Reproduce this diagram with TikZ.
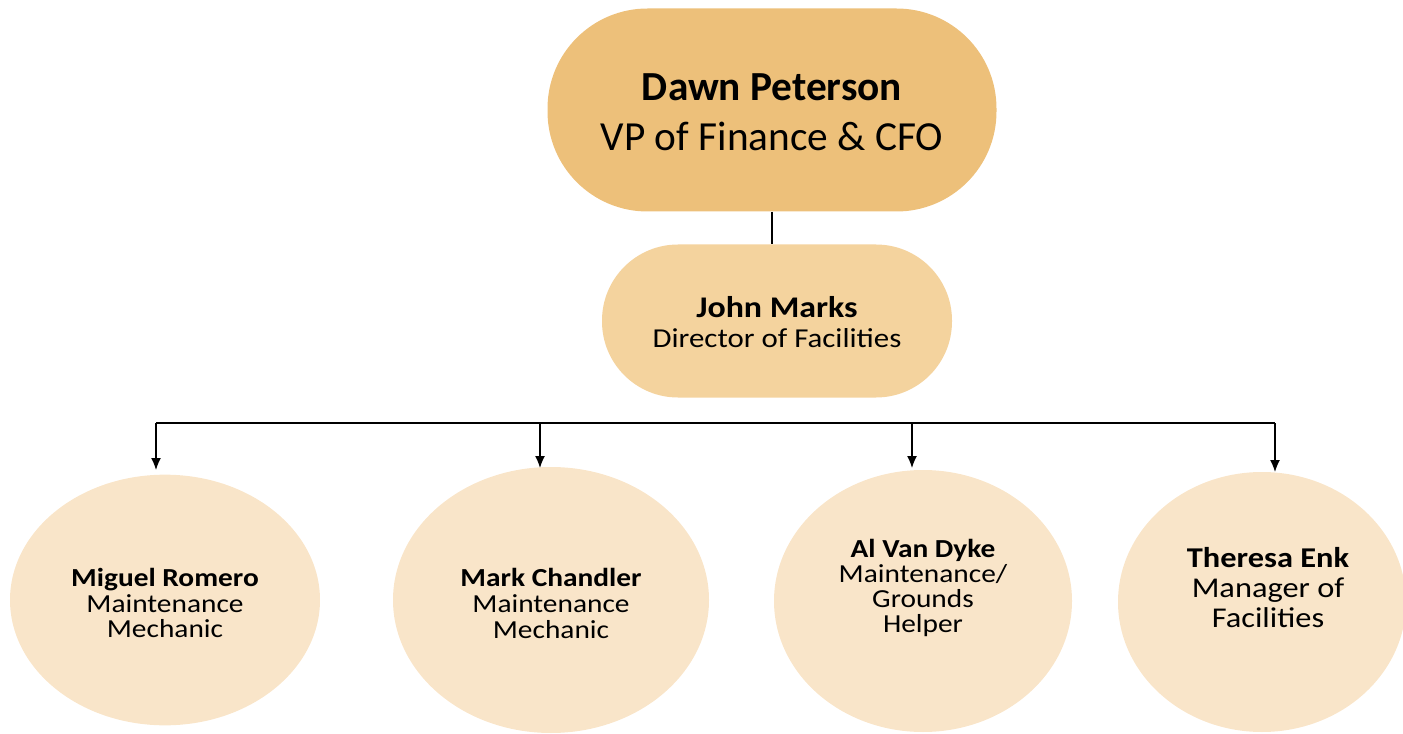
\documentclass[tikz,border=0pt]{standalone}
\usepackage{fontspec}
\setmainfont{Carlito}
\newfontfamily\wfont[FakeStretch=1.13]{Carlito}
\usetikzlibrary{arrows.meta,shapes.geometric}
\definecolor{topfill}{RGB}{237,192,122}
\definecolor{midfill}{RGB}{244,211,158}
\definecolor{lowfill}{RGB}{249,229,201}
\begin{document}
\begin{tikzpicture}[x=0.75pt,y=-0.75pt,
  topbox/.style={rectangle,rounded corners=75pt,fill=topfill,minimum width=336.75pt,minimum height=152.25pt,inner sep=0pt},
  midbox/.style={rectangle,rounded corners=57pt,fill=midfill,minimum width=262.5pt,minimum height=114.75pt,inner sep=0pt},
  circ/.style={ellipse,fill=lowfill,inner sep=0pt},
  txt/.style={align=center,inner sep=0pt},
  conn/.style={line width=1pt,draw=black},
  arr/.style={conn,-{Latex[length=9pt,width=7.5pt]}}]
\useasboundingbox (0,0) rectangle (1403,734);
% top
\node[topbox] (dawn) at (772,110) {};
\node[txt,font=\fontsize{31}{37.5}\selectfont] (dawnt) at (772,112) {\textbf{Dawn Peterson}\\VP of Finance \& CFO};
\node[midbox] (john) at (777,321) {};
\node[txt,font=\wfont\fontsize{20.5}{23}\selectfont] (johnt) at (777,322) {{\fontsize{22.5}{23}\selectfont\textbf{John Marks}}\\Director of Facilities};
\draw[conn] (dawn.south -| 772,0) -- (john.north -| 772,0);
% bottom
\node[circ,minimum width=232.5pt,minimum height=188pt] (m1) at (165,600) {};
\node[circ,minimum width=237pt,minimum height=199.5pt] (m2) at (551,600) {};
\node[circ,minimum width=223.5pt,minimum height=196.5pt] (m3) at (923,601) {};
\node[circ,minimum width=216pt,minimum height=195pt] (m4) at (1262,602) {};
\node[txt,font=\wfont\fontsize{19.5}{19}\selectfont] (m1t) at (165,603) {\textbf{Miguel Romero}\\Maintenance\\Mechanic};
\node[txt,font=\wfont\fontsize{19.5}{19.5}\selectfont] (m2t) at (551,603) {\textbf{Mark Chandler}\\Maintenance\\Mechanic};
\node[txt,font=\wfont\fontsize{19.5}{18.7}\selectfont] (m3t) at (923,588) {\textbf{Al Van Dyke}\\Maintenance/\\Grounds\\Helper};
\node[txt,font=\wfont\fontsize{21.5}{22.5}\selectfont] (m4t) at (1268,588) {\textbf{Theresa Enk}\\Manager of\\Facilities};
% bus
\coordinate (b1) at (156,423);
\coordinate (b2) at (540,423);
\coordinate (b3) at (912,423);
\coordinate (b4) at (1275,423);
\draw[conn] (b1) -- (b4);
\draw[arr] (b1) -- (156,470);
\draw[arr] (b2) -- (540,468);
\draw[arr] (b3) -- (912,468);
\draw[arr] (b4) -- (1275,472);
\end{tikzpicture}
\end{document}
